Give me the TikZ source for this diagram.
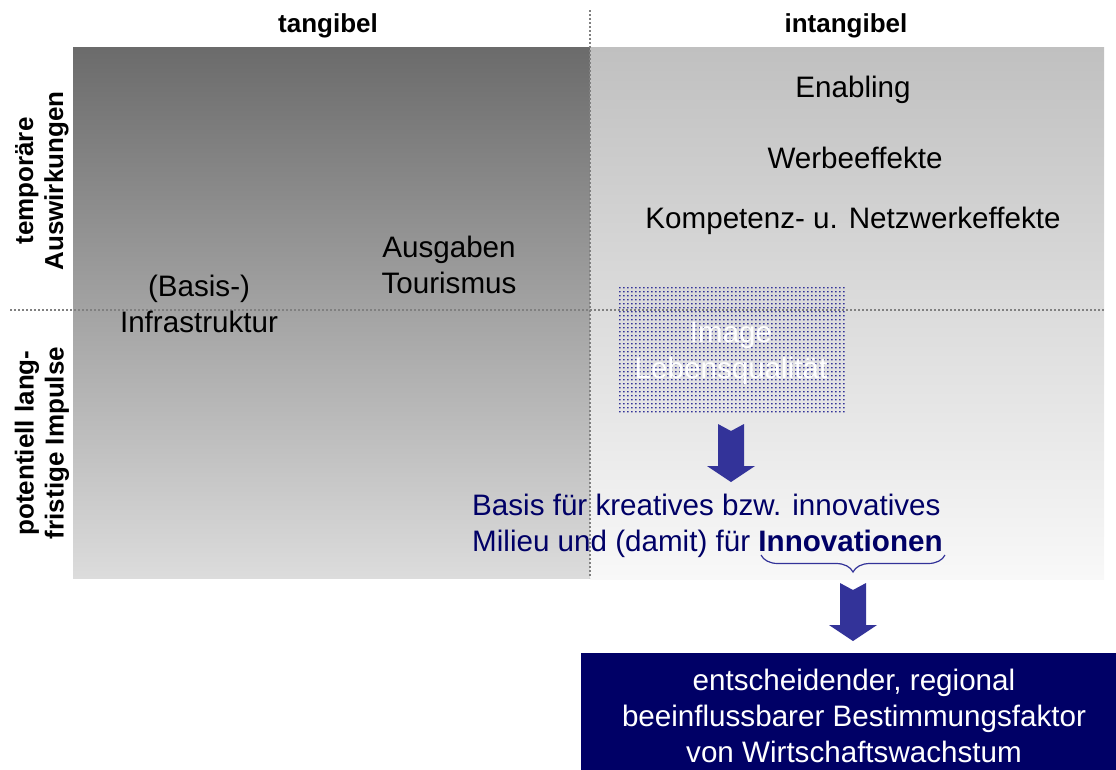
\documentclass[tikz,border=0pt]{standalone}
\usepackage{fontspec}
\setmainfont{Liberation Sans}
\usetikzlibrary{decorations.pathreplacing}
\definecolor{dunkelblau}{RGB}{0,0,102}
\definecolor{pfeilblau}{RGB}{51,51,153}
\definecolor{feldAoben}{RGB}{107,107,107}
\definecolor{feldAunten}{RGB}{220,220,220}
\definecolor{feldBoben}{RGB}{192,192,192}
\definecolor{feldBunten}{RGB}{248,248,248}
\tikzset{
  trenner/.style={gray, dotted, line width=2pt},
  kopf/.style={font=\fontsize{26}{30}\selectfont\bfseries},
  seite/.style={kopf, rotate=90, align=center},
  eintrag/.style={font=\fontsize{29.6}{36}\selectfont, align=center},
  pfeil/.style={fill=pfeilblau},
}
% dicker Pfeil, #1 = Mitte der Oberkante
\newcommand{\blockpfeil}[1]{\fill[pfeil] (#1) ++(-13,0) -- ++(13,7) -- ++(13,-7) -- ++(0,42) -- ++(11,0) -- ++(-24,16) -- ++(-24,-16) -- ++(11,0) -- cycle;}
\begin{document}
\begin{tikzpicture}[x=1pt,y=-1pt]
	\useasboundingbox (0,0) rectangle (1116,769);
	% Felder
	\shade[top color=feldAoben, bottom color=feldAunten] (73,47) rectangle (590,578);
	\shade[top color=feldBoben, bottom color=feldBunten] (590,47) rectangle (1104,579);
	% Punktraster
	\fill[pfeilblau] \foreach \i in {0,...,56} {\foreach \j in {0,...,31} {(619+4*\i,287+4*\j) rectangle ++(1.6,1.4)}};
	\draw[trenner] (590,10) -- (590,578);
	\draw[trenner] (10,310) -- (1104,310);
	% Achsen
	\node[kopf] (tang) at (328,26) {tangibel};
	\node[kopf] (intang) at (846,26) {intangibel};
	\node[seite] (temp) at (42,181) {temporäre\\Auswirkungen};
	\node[seite] (lang) at (42,443) {potentiell lang-\\fristige Impulse};
	% Eintraege
	\node[eintrag] (enab) at (853,90) {Enabling};
	\node[eintrag] (werbe) at (855,158) {Werbeeffekte};
	\node[eintrag] (komp) at (853,221) {Kompetenz- u. Netzwerkeffekte};
	\node[eintrag] (ausg) at (449,265) {Ausgaben\\Tourismus};
	\node[eintrag] (infra) at (199,304) {(Basis-)\\Infrastruktur};
	\node[eintrag, text=white] (bild) at (731,353) {Image\\Lebensqualität};
	\node[eintrag, text=dunkelblau, align=left, anchor=north west, inner sep=0] (milieu) at (472,494) {Basis für kreatives bzw. innovatives\\Milieu und (damit) für \textbf{Innovationen}};
	\draw[pfeilblau, line width=1.2pt, decorate, decoration={brace, mirror, amplitude=17pt}] (761,555) -- (945,555);
	\node[eintrag, fill=dunkelblau, text=white, minimum width=546, minimum height=126] (faktor) at (854,716) {entscheidender, regional\\beeinflussbarer Bestimmungsfaktor\\von Wirtschaftswachstum};
	% Pfeile
	\coordinate (p1) at (731,424);
	\coordinate (p2) at (853,583);
	\blockpfeil{p1}
	\blockpfeil{p2}
\end{tikzpicture}
\end{document}
